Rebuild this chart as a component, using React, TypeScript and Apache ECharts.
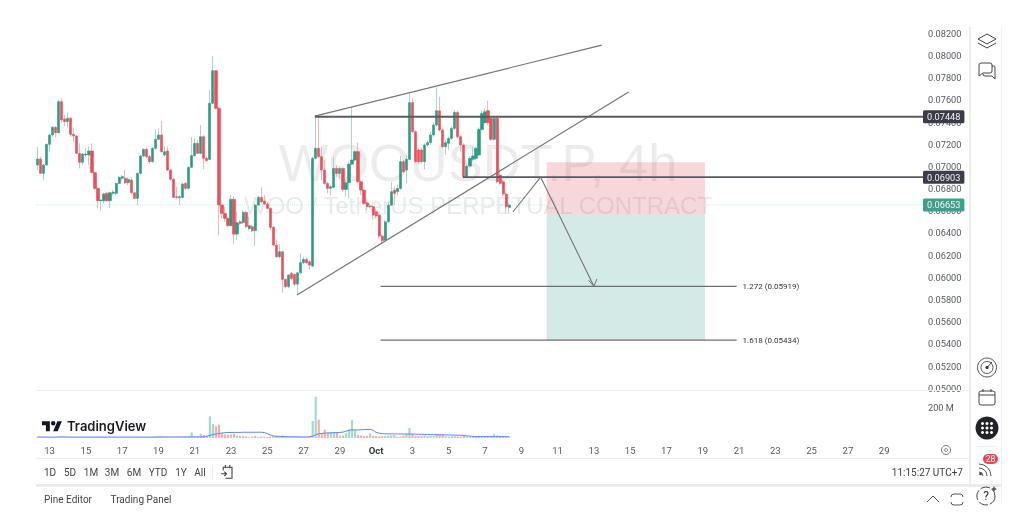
import React, { useEffect, useRef } from "react";
import * as echarts from "echarts";

// Prices below are in units of 0.00001 USDT.
const opens = [7013,7067,6938,7013,7199,7283,7352,7304,7584,7428,7404,7434,7289,7274,7118,7037,7103,7103,7139,6944,6802,6691,6691,6757,6691,6757,6757,6847,6893,6893,6853,6877,6763,6712,6938,7094,7154,7088,7043,7163,7244,7283,7103,7139,6968,6884,6727,6718,6721,6847,6802,6992,7097,7208,7118,7268,7073,7064,7569,7863,7524,6652,6577,6532,6466,6703,6390,6502,6493,6586,6439,6457,6421,6652,6721,6688,6661,6622,6451,6291,6186,6231,5982,5916,6036,6026,5939,6041,6132,6162,6141,6102,7073,7163,7088,6967,6847,6802,6811,6982,6937,6982,6793,6853,7021,7058,7133,6862,6787,6673,6637,6637,6592,6561,6372,6336,6501,6652,6787,6772,6802,7043,6967,7064,7575,7313,7148,7148,7043,7193,7214,7283,7373,7502,7328,7178,7208,7253,7343,7487,7268,7193,6907,7003,7064,7073,7103,7334,7394,7502,7433,7244,7433,6922,6862,6751,6631];
const closes = [7067,6938,7013,7199,7283,7352,7304,7584,7419,7404,7434,7289,7274,7118,7037,7112,7112,7139,6944,6802,6691,6697,6751,6691,6763,6769,6847,6902,6908,6853,6884,6763,6712,6938,7094,7154,7088,7043,7163,7244,7283,7133,7133,6968,6884,6721,6721,6727,6841,6802,6992,7097,7208,7118,7268,7073,7052,7569,7863,7524,6652,6577,6532,6466,6703,6390,6493,6487,6586,6457,6466,6421,6652,6721,6682,6661,6622,6451,6291,6186,6231,5982,5916,6021,5990,5939,6041,6132,6162,6132,6111,7073,7163,7088,6967,6847,6802,6817,6982,6937,6982,6793,6853,7021,7058,7133,6862,6787,6667,6637,6643,6561,6553,6372,6330,6501,6652,6772,6757,6802,7043,6952,7064,7575,7313,7043,7043,7043,7193,7214,7283,7373,7502,7328,7178,7214,7253,7343,7487,7268,7193,6907,7003,7073,7094,7163,7334,7478,7493,7394,7244,7433,6862,6847,6751,6637,6652];
const highs = [7178,7088,7022,7208,7298,7364,7364,7599,7614,7464,7485,7443,7352,7283,7208,7124,7163,7178,7208,6950,6811,6703,6763,6772,6772,6787,6853,6914,6923,6968,6902,6902,6772,6944,7103,7163,7172,7103,7172,7334,7343,7410,7178,7178,6974,6893,6817,6742,6853,6862,6998,7262,7253,7238,7373,7283,7088,7689,7996,7869,7533,6661,6637,6538,6742,6733,6592,6517,6607,6601,6547,6472,6667,6733,6811,6742,6682,6631,6463,6336,6300,6240,5991,6030,6051,6041,6051,6216,6186,6180,6156,7088,7454,7454,7178,7058,6862,6832,7082,7012,7003,6997,6877,7043,7533,7148,7214,6877,6793,6691,6667,6652,6622,6577,6390,6516,6682,6862,6817,6832,7094,7058,7103,7659,7614,7328,7163,7163,7208,7238,7313,7388,7713,7629,7343,7238,7268,7358,7508,7502,7283,7208,7027,7094,7178,7178,7352,7502,7523,7593,7454,7454,7448,6982,6877,6763,6673];
const lows = [6968,6932,6877,7004,7133,7268,7262,7298,7388,7364,7352,7268,7223,7112,6983,7013,7088,7013,6938,6787,6622,6601,6667,6682,6622,6742,6742,6841,6871,6841,6832,6751,6703,6652,6929,7088,7073,7022,7034,7154,7238,7124,7088,6962,6871,6715,6703,6652,6712,6787,6793,6986,7088,7112,7109,6974,7043,7058,7563,7515,6381,6532,6502,6457,6457,6300,6336,6472,6481,6442,6427,6409,6282,6643,6667,6652,6613,6427,6276,6177,6171,5861,5901,5901,5975,5921,5855,6036,6120,6120,6066,6096,7064,7073,6877,6832,6757,6742,6802,6907,6892,6772,6727,6712,7012,7043,6853,6742,6652,6607,6622,6516,6531,6351,6306,6327,6492,6643,6652,6742,6787,6937,6847,7058,7298,7027,7027,7027,6973,7178,7193,7268,7358,7313,7163,7103,7148,7238,7328,7253,7133,6892,6892,6991,7043,7058,7094,7322,7382,7373,7232,7232,6847,6832,6733,6583,6583];
// Volume, in millions.
const volumes = [6,5,4,4,5,4,4,6,8,5,4,4,3,4,5,4,4,5,6,5,5,4,3,4,4,3,4,3,3,4,5,3,4,6,5,4,4,4,5,9,8,10,6,7,5,6,5,8,7,5,9,36,10,9,28,20,12,140,90,75,86,30,22,20,22,27,16,12,15,10,6,8,14,8,10,8,6,10,12,14,12,16,12,10,8,8,10,8,6,5,10,110,267,118,28,54,36,38,38,38,16,16,32,55,118,50,20,16,12,14,30,14,12,12,14,14,16,18,18,10,10,16,25,65,25,15,14,14,18,14,16,14,25,22,22,12,10,12,12,10,10,14,10,8,10,10,12,10,12,10,10,25,16,12,10,12,6];
const volumeAverage = [7,7,6,6,6,6,6,7,7,7,6,6,6,6,6,6,6,6,6,6,6,6,6,6,6,6,6,6,6,6,6,6,6,6,6,6,6,6,6,6,7,7,7,7,7,7,7,7,7,7,7,7,7,7,7,8,12,17,22,26,29,32,34,35,36,36,36,36,37,37,37,37,37,37,37,35,28,20,14,11,10,9,9,8,8,8,7,7,7,7,8,12,20,28,30,31,32,33,34,35,36,38,44,50,52,52,52,53,54,55,56,50,36,31,28,27,27,27,27,26,26,26,26,26,25,25,24,24,23,23,22,22,21,21,21,20,20,19,19,18,18,16,14,12,10,9,9,9,9,9,9,9,9,9,9,9,9];

const priceTicks = { min: 0.05, max: 0.082, step: 0.002 };
const dayLabels = ["13","15","17","19","21","23","25","27","29","Oct","3","5","7","9","11","13","15","17","19","21","23","25","27","29"];
const rangeButtons: [string, number][] = [["1D",50],["5D",70],["1M",91],["3M",112],["6M",134],["YTD",158],["1Y",181],["All",200]];

const upperWedge = [[91.7,0.07454],[186.6,0.08094]];
const lowerWedge = [[85.8,0.0584],[195.5,0.07671]];
const resistanceLevel = [[91.7,0.07448],[293.5,0.07448]];
const supportLevel = [[140.7,0.06903],[293.5,0.06903]];
const lastPriceLevel = [[-0.5,0.06653],[293.5,0.06653]];
const fibA = [[113.5,0.05919],[231.2,0.05919]];
const fibB = [[113.5,0.05434],[231.2,0.05434]];
const projection = [[157.2,0.06589],[166.4,0.06903],[184,0.05919]];
const arrowHead = [[182.2,0.05975],[184,0.05919],[185,0.05985]];
const riskZone = [168.4,0.07038,220.7,0.06568];
const rewardZone = [168.4,0.06568,220.7,0.05434];

const SLOTS = 294;
const FIRST_LABEL_SLOT = 4;
const SLOTS_PER_LABEL = 12;

const GREEN = "#2f9a85";
const RED = "#e9505b";
const GREEN_WICK = "#a6d6cd";
const RED_WICK = "#f4b4b8";

const categories: string[] = Array(SLOTS).fill("");
dayLabels.forEach((d, k) => { categories[FIRST_LABEL_SLOT + k * SLOTS_PER_LABEL] = d; });

echarts.graphic.registerShape("tvLogo", echarts.graphic.extendPath("M14 22H7V11H0V4h14v18zM28 22h-8l7.5-18h8L28 22zM16 7.5a4 4 0 1 0 8 0a4 4 0 1 0-8 0z" as any, {}));
echarts.graphic.registerShape("icLayers", echarts.graphic.extendPath("M0 6L9 1L18 6L9 11ZM0 10L9 15L18 10" as any, {}));
echarts.graphic.registerShape("icChat", echarts.graphic.extendPath("M2 0H11Q13 0 13 2V8Q13 10 11 10H4L0 13V2Q0 0 2 0ZM13 3H15Q16 3 16 5V16L13 13H6Q4 13 4 11" as any, {}));
echarts.graphic.registerShape("icCalArrow", echarts.graphic.extendPath("M2 5V2H10V12H4M0 8H5M3 6L5 8L3 10M2 2H10M4 0V3M8 0V3" as any, {}));
echarts.graphic.registerShape("icRss", echarts.graphic.extendPath("M0 5A12 12 0 0 1 12 17M0 9A8 8 0 0 1 8 17M0 13A4 4 0 0 1 4 17" as any, {}));
echarts.graphic.registerShape("icChevron", echarts.graphic.extendPath("M0 6L6 0L12 6" as any, {}));
echarts.graphic.registerShape("icFrame", echarts.graphic.extendPath("M0 3Q0 0 3 0H9Q12 0 12 3M0 8Q0 11 3 11H9Q12 11 12 8" as any, {}));
echarts.graphic.registerShape("icStar", echarts.graphic.extendPath("M3 0L4 2L6 3L4 4L3 6L2 4L0 3L2 2Z" as any, {}));

const FONT = "Roboto, 'Noto Sans', sans-serif";

const label = (text: string, x: number, y: number, font: string, fill: string, align = "center", z = 10) => ({
  type: "text", z, x, y,
  style: { text, font, fill, textAlign: align, textVerticalAlign: "middle" },
});

const stroke = (c = "#3d3d3d", w = 1) => ({ fill: "none", stroke: c, lineWidth: w });

function buildGraphics() {
  const els: any[] = [
    label("WOOUSDT.P, 4h", 478, 162, "52.5px 'Liberation Sans'", "rgba(40,40,50,0.085)", "center", -1),
    label("WOO / TetherUS PERPETUAL CONTRACT", 478, 205, "24px 'Liberation Sans'", "rgba(40,40,50,0.1)", "center", -1),

    { type: "rect", z: 1, shape: { x: 36, y: 390, width: 934, height: 1 }, style: { fill: "#efefef" } },
    { type: "rect", z: 1, shape: { x: 36, y: 458, width: 934, height: 1 }, style: { fill: "#efefef" } },
    { type: "rect", z: 1, shape: { x: 36, y: 484, width: 965, height: 3 }, style: { fill: "#ebebeb" } },
    { type: "rect", z: 1, shape: { x: 969, y: 27, width: 2, height: 459 }, style: { fill: "#ececec" } },
    { type: "rect", z: 1, shape: { x: 1001, y: 27, width: 1, height: 475 }, style: { fill: "#f1f1f1" } },
    { type: "rect", z: 1, shape: { x: 212, y: 465, width: 1, height: 15 }, style: { fill: "#eeeeee" } },

    { type: "tvLogo", z: 10, x: 42, y: 419, scaleX: 0.56, scaleY: 0.56, style: { fill: "#131722" } },
    label("TradingView", 67, 426, "600 13px Inter, Roboto", "#1a1a1f", "left"),

    { type: "icLayers", z: 10, x: 978, y: 33, style: stroke("#444") },
    { type: "icChat", z: 10, x: 979, y: 63, style: stroke("#444") },

    { type: "circle", z: 10, shape: { cx: 987, cy: 367.5, r: 9.5 }, style: stroke("#555") },
    { type: "circle", z: 10, shape: { cx: 987, cy: 367.5, r: 6 }, style: stroke("#555") },
    { type: "circle", z: 10, shape: { cx: 987, cy: 367.5, r: 1.6 }, style: { fill: "#333" } },
    { type: "line", z: 10, shape: { x1: 987, y1: 367.5, x2: 992, y2: 362 }, style: stroke("#444") },

    { type: "rect", z: 10, shape: { x: 979, y: 391, width: 16, height: 14, r: 2 }, style: stroke("#444") },
    { type: "line", z: 10, shape: { x1: 979, y1: 395, x2: 995, y2: 395 }, style: stroke("#444") },
    { type: "line", z: 10, shape: { x1: 983, y1: 389, x2: 983, y2: 392 }, style: stroke("#444") },
    { type: "line", z: 10, shape: { x1: 991, y1: 389, x2: 991, y2: 392 }, style: stroke("#444") },

    { type: "circle", z: 10, shape: { cx: 987, cy: 428, r: 11.5 }, style: { fill: "#222326" } },
    { type: "rect", z: 1, shape: { x: 977, y: 446, width: 20, height: 1 }, style: { fill: "#f0f0f0" } },

    { type: "icRss", z: 10, x: 979, y: 459, style: stroke("#555") },
    { type: "circle", z: 10, shape: { cx: 980.5, cy: 474, r: 1.3 }, style: { fill: "#444" } },
    { type: "rect", z: 11, shape: { x: 983, y: 454, width: 15, height: 10, r: 5 }, style: { fill: "#ee4450" } },
    label("28", 990.5, 459.3, `8.5px ${FONT}`, "#ffffff", "center", 12),

    { type: "circle", z: 10, shape: { cx: 986, cy: 496, r: 9 }, style: { ...stroke("#444"), lineDash: [10, 2] } },
    label("?", 986, 496, `12px ${FONT}`, "#333333"),
    { type: "icStar", z: 10, x: 991, y: 486, style: { fill: "#555" } },

    { type: "circle", z: 10, shape: { cx: 946, cy: 450, r: 4.5 }, style: stroke("#777") },
    { type: "circle", z: 10, shape: { cx: 946, cy: 450, r: 1.5 }, style: stroke("#777") },

    { type: "icCalArrow", z: 10, x: 221, y: 465, scaleX: 1.1, scaleY: 1.1, style: stroke("#444") },

    label("11:15:27 UTC+7", 963, 472, `10px ${FONT}`, "#3d3d3d", "right"),
    label("Pine Editor", 68, 499, `10px ${FONT}`, "#444444"),
    label("Trading Panel", 141, 499, `10px ${FONT}`, "#444444"),

    { type: "icChevron", z: 10, x: 927, y: 496, style: stroke("#555") },
    { type: "icFrame", z: 10, x: 951, y: 494, style: stroke("#555") },
  ];
  rangeButtons.forEach(([t, x]) => els.push(label(t, x, 472, `10px ${FONT}`, "#444444")));
  [-4.5, 0, 4.5].forEach((dy) => [-4.5, 0, 4.5].forEach((dx) => {
    els.push({ type: "circle", z: 11, shape: { cx: 987 + dx, cy: 428 + dy, r: 1.5 }, style: { fill: "#ffffff" } });
  }));
  return els;
}

const overlay = (data: number[][], color: string, width: number, extra: any = {}) => ({
  type: "line", xAxisIndex: 2, yAxisIndex: 0, data, showSymbol: false, silent: true, z: 5,
  lineStyle: { color, width }, ...extra,
});

const badge = (text: string, bg: string) => ({
  endLabel: {
    show: true, formatter: text, distance: -2, color: "#f4f4f6", fontSize: 9.2, fontFamily: FONT,
    backgroundColor: bg, padding: [2, 4, 2, 4], borderRadius: 1.5,
  },
});

const fibEnd = (text: string) => ({
  endLabel: { show: true, formatter: text, distance: 6, color: "#333", fontSize: 8, fontFamily: FONT },
});

const zoneSeries = (rect: number[], color: string) => ({
  type: "custom", xAxisIndex: 2, yAxisIndex: 0, silent: true, z: 1, clip: true,
  data: [rect],
  encode: { x: [0, 2], y: [1, 3] },
  renderItem: (_: any, api: any) => {
    const a = api.coord([api.value(0), api.value(1)]);
    const b = api.coord([api.value(2), api.value(3)]);
    return { type: "rect", shape: { x: a[0], y: a[1], width: b[0] - a[0], height: b[1] - a[1] }, style: { fill: color } };
  },
});

export default function App() {
  const ref = useRef<HTMLDivElement>(null);
  useEffect(() => {
    const chart = echarts.init(ref.current!, undefined, { renderer: "svg" });
    const price = (v: number) => v / 100000;
    const wicks = opens.map((_, i) => [price(opens[i]), price(closes[i]), price(lows[i]), price(highs[i])]);
    const bodies = opens.map((_, i) => [
      price(opens[i]), price(closes[i]),
      price(Math.min(opens[i], closes[i])), price(Math.max(opens[i], closes[i])),
    ]);
    chart.setOption({
      animation: false,
      backgroundColor: "#ffffff",
      graphic: { elements: buildGraphics() },
      grid: [
        { left: 36, right: 99, top: 33.3, bottom: 136.7 },
        { left: 36, right: 99, top: 391.5, bottom: 87 },
      ],
      xAxis: [
        { type: "category", gridIndex: 0, data: categories, show: false },
        {
          type: "category", gridIndex: 1, data: categories,
          axisLine: { show: false }, axisTick: { show: false },
          axisLabel: {
            interval: (_: number, v: string) => v !== "",
            margin: 7, fontSize: 9.5, fontFamily: FONT, color: "#55585f",
            formatter: (v: string) => (v === "Oct" ? "{b|Oct}" : v),
            rich: { b: { fontWeight: 700, fontSize: 9.5, fontFamily: FONT, color: "#33363d" } },
          },
        },
        { type: "value", gridIndex: 0, min: -0.5, max: SLOTS - 0.5, show: false },
      ],
      yAxis: [
        {
          type: "value", gridIndex: 0, position: "right",
          min: priceTicks.min, max: priceTicks.max, interval: priceTicks.step,
          axisLine: { show: false }, axisTick: { show: false }, splitLine: { show: false },
          axisLabel: { margin: 3, fontSize: 9.2, fontFamily: FONT, color: "#55585f", formatter: (v: number) => v.toFixed(5) },
        },
        {
          type: "value", gridIndex: 1, position: "right", min: 0, max: 300, interval: 200,
          axisLine: { show: false }, axisTick: { show: false }, splitLine: { show: false },
          axisLabel: { margin: 3, fontSize: 9.2, fontFamily: FONT, color: "#55585f", formatter: (v: number) => (v === 200 ? "200 M" : "") },
        },
      ],
      series: [
        zoneSeries(riskZone, "rgba(225,75,85,0.22)"),
        zoneSeries(rewardZone, "rgba(40,150,130,0.2)"),
        {
          type: "candlestick", xAxisIndex: 0, yAxisIndex: 0, data: wicks, barWidth: 1, z: 3, silent: true,
          itemStyle: { color: GREEN_WICK, color0: RED_WICK, borderColor: GREEN_WICK, borderColor0: RED_WICK, borderWidth: 1 },
        },
        {
          type: "candlestick", xAxisIndex: 0, yAxisIndex: 0, data: bodies, barWidth: 2.7, z: 4, silent: true,
          itemStyle: { color: GREEN, color0: RED, borderColor: GREEN, borderColor0: RED, borderWidth: 0.6 },
        },
        overlay(lastPriceLevel, "#cfe9e3", 1, { lineStyle: { color: "#cfe9e3", width: 1, type: "dotted" }, z: 2, ...badge("0.06653", "#3f9f8b") }),
        overlay(upperWedge, "#757575", 1.2),
        overlay(lowerWedge, "#757575", 1.2),
        overlay(resistanceLevel, "#5a5a60", 1.8, badge("0.07448", "#3a3c48")),
        overlay(supportLevel, "#5a5a60", 1.8, badge("0.06903", "#3a3c48")),
        overlay(fibA, "#6e6e6e", 1.2, fibEnd("1.272 (0.05919)")),
        overlay(fibB, "#6e6e6e", 1.2, fibEnd("1.618 (0.05434)")),
        overlay(projection, "#757575", 1.1),
        overlay(arrowHead, "#757575", 1),
        {
          type: "bar", xAxisIndex: 1, yAxisIndex: 1, barWidth: 2.2, silent: true,
          data: volumes.map((v, i) => ({
            value: v,
            itemStyle: { color: closes[i] >= opens[i] ? "#a5d8cf" : "#f5aeaa" },
          })),
        },
        {
          type: "line", xAxisIndex: 1, yAxisIndex: 1, data: volumeAverage, showSymbol: false, silent: true,
          lineStyle: { color: "#5f86ee", width: 1 }, z: 5,
        },
      ],
    });
    return () => chart.dispose();
  }, []);
  return <div ref={ref} style={{ position: "absolute", left: 0, top: 0, width: 1024, height: 525, filter: "blur(0.45px)" }} />;
}
